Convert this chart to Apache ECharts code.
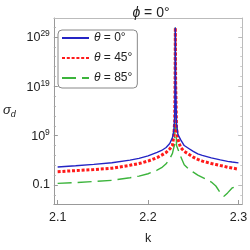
<!DOCTYPE html>
<html><head><meta charset="utf-8">
<script src="https://cdn.jsdelivr.net/npm/echarts@6/dist/echarts.min.js"></script>
<style>html,body{margin:0;padding:0;background:#fff}#c{width:250px;height:250px}</style>
</head><body><div id="c"></div>
<script>
// k values (x axis)
const kValues = [2.10, 2.12, 2.14, 2.16, 2.18, 2.19, 2.20, 2.21, 2.215, 2.22, 2.224, 2.227, 2.2285, 2.2295, 2.2299, 2.2302, 2.2305, 2.2315, 2.233, 2.236, 2.24, 2.245, 2.25, 2.255, 2.26, 2.27, 2.275, 2.28, 2.284, 2.288, 2.293, 2.30];
// log10(sigma_d)
const logSigmaTheta0 = [2.65, 2.9, 3.18, 3.5, 4.05, 4.4, 4.9, 5.6, 6.0, 6.6, 7.4, 8.6, 10, 13, 20, 30.9, 20, 11.5, 9.3, 8.2, 7.0, 6.4, 5.8, 5.3, 5.0, 4.5, 4.3, 4.1, 3.95, 3.8, 3.65, 3.48];
const logSigmaTheta45 = [1.7, 1.92, 2.12, 2.4, 3.0, 3.35, 3.85, 4.55, 5.05, 5.6, 6.3, 7.0, 9, 12, 20, 30.9, 20, 10.5, 8.3, 6.6, 5.8, 5.25, 4.65, 4.2, 3.85, 3.35, 3.15, 2.95, 2.8, 2.6, 2.45, 2.2];
const logSigmaTheta85 = [-0.67, -0.5, -0.3, -0.05, 0.48, 0.8, 1.28, 2.0, 2.5, 3.3, 4.3, 5.4, 6.6, 7.2, 15, 30.9, 15, 7.0, 6.3, 4.8, 3.1, 2.2, 1.6, 1.0, 0.55, -0.4, -1.2, -2.6, -3.3, -2.6, -1.6, -1.1];
const seriesNames = ['θ = 0°', 'θ = 45°', 'θ = 85°'];
const xTickValues = [2.1, 2.2, 2.3];
const yMajorExp = [-1, 9, 19, 29];
const yMinorExp = [-3, 1, 3, 5, 7, 11, 13, 15, 17, 21, 23, 25, 27, 31];

const FONT = '"Liberation Sans", Arial, sans-serif';
const xMin = 2.0958, xMax = 2.3042, yMin = -4.85, yMax = 32.85;

function yLabel(v) {
  if (Math.abs(v + 1) < 1e-9) return '{b|0.1}';
  return '{b|10}{s|' + Math.round(v) + '}';
}
function legendLabel(name) {
  return '{i|θ}' + name.slice(1);
}
const chart = echarts.init(document.getElementById('c'), null, {renderer: 'canvas'});
const colors = ['#2424c4', '#ff1a1a', '#3cb43c'];
const arrays = [logSigmaTheta0, logSigmaTheta45, logSigmaTheta85];
const lineStyles = [
  {width: 1.4, type: 'solid'},
  {width: 3, type: [3, 1.8], cap: 'butt'},
  {width: 1.4, type: [14, 6]}
];
const labelRich = {
  b: {fontSize: 12.5, color: '#222', fontFamily: FONT, verticalAlign: 'bottom'},
  s: {fontSize: 8.5, color: '#222', fontFamily: FONT, verticalAlign: 'bottom', padding: [0, 0, 6, 0]}
};
const option = {
  animation: false,
  backgroundColor: '#fff',
  title: {
    text: '{i|ϕ} = 0°', left: 146, top: 1, textAlign: 'center',
    textStyle: {fontSize: 14, fontWeight: 'normal', color: '#222', fontFamily: FONT,
      rich: {i: {fontSize: 14, fontStyle: 'italic', color: '#222', fontFamily: FONT}}}
  },
  legend: {
    orient: 'vertical', left: 58, top: 30, itemWidth: 27, itemHeight: 14, itemGap: 8,
    padding: [2, 5, 4, 3], borderColor: '#888', borderWidth: 1, borderRadius: 4, backgroundColor: '#fff',
    formatter: legendLabel,
    itemStyle: {opacity: 0},
    textStyle: {fontSize: 12, color: '#222', fontFamily: FONT,
      rich: {i: {fontSize: 12, fontStyle: 'italic', color: '#222', fontFamily: FONT}}},
    data: seriesNames
  },
  grid: {left: 47, top: 18, right: 6, bottom: 36, containLabel: false},
  xAxis: [
    {type: 'value', min: xMin, max: xMax, position: 'bottom',
     axisLine: {show: true, onZero: false, lineStyle: {color: '#999', width: 1}},
     axisTick: {show: true, inside: true, length: 4, customValues: xTickValues, lineStyle: {color: '#999'}},
     axisLabel: {customValues: xTickValues, formatter: v => v.toFixed(1), color: '#222', fontSize: 12.5, fontFamily: FONT, margin: 7},
     splitLine: {show: false},
     name: 'k', nameLocation: 'middle', nameGap: 28,
     nameTextStyle: {fontSize: 12.5, color: '#222', fontFamily: FONT}},
    {type: 'value', min: xMin, max: xMax, position: 'top',
     axisLine: {show: true, onZero: false, lineStyle: {color: '#bbb', width: 1}},
     axisTick: {show: false}, axisLabel: {show: false}, splitLine: {show: false}}
  ],
  yAxis: [
    {type: 'value', min: yMin, max: yMax, position: 'left',
     axisLine: {show: true, onZero: false, lineStyle: {color: '#999', width: 1}},
     axisTick: {show: true, inside: true, length: 4, customValues: yMajorExp, lineStyle: {color: '#999'}},
     axisLabel: {customValues: yMajorExp, formatter: yLabel, margin: 4, rich: labelRich},
     splitLine: {show: false},
     name: '{g|σ}{d|d}', nameLocation: 'middle', nameRotate: 0, nameGap: 38,
     nameTextStyle: {rich: {
       g: {fontSize: 13, fontStyle: 'italic', color: '#222', fontFamily: FONT, verticalAlign: 'top'},
       d: {fontSize: 9, fontStyle: 'italic', color: '#222', fontFamily: FONT, verticalAlign: 'top', padding: [6, 0, 0, 0]}
     }}},
    {type: 'value', min: yMin, max: yMax, position: 'left',
     axisLine: {show: false, onZero: false},
     axisTick: {show: true, inside: true, length: 2, customValues: yMinorExp, lineStyle: {color: '#aaa'}},
     axisLabel: {show: false}, splitLine: {show: false}},
    {type: 'value', min: yMin, max: yMax, position: 'right',
     axisLine: {show: true, onZero: false, lineStyle: {color: '#bbb', width: 1}},
     axisTick: {show: true, inside: true, length: 4, customValues: yMajorExp, lineStyle: {color: '#bbb'}},
     axisLabel: {show: false}, splitLine: {show: false}},
    {type: 'value', min: yMin, max: yMax, position: 'right',
     axisLine: {show: false, onZero: false},
     axisTick: {show: true, inside: true, length: 2, customValues: yMinorExp, lineStyle: {color: '#ccc'}},
     axisLabel: {show: false}, splitLine: {show: false}}
  ],
  series: seriesNames.map((name, s) => ({
    type: 'line', name: name, xAxisIndex: 0, yAxisIndex: 0,
    symbol: 'none', showSymbol: false, smooth: false, clip: true,
    itemStyle: {color: colors[s]},
    lineStyle: Object.assign({color: colors[s]}, lineStyles[s]),
    data: kValues.map((k, i) => [k, arrays[s][i]]),
    z: 3 - s
  }))
};
chart.setOption(option);
</script>
</body></html>
